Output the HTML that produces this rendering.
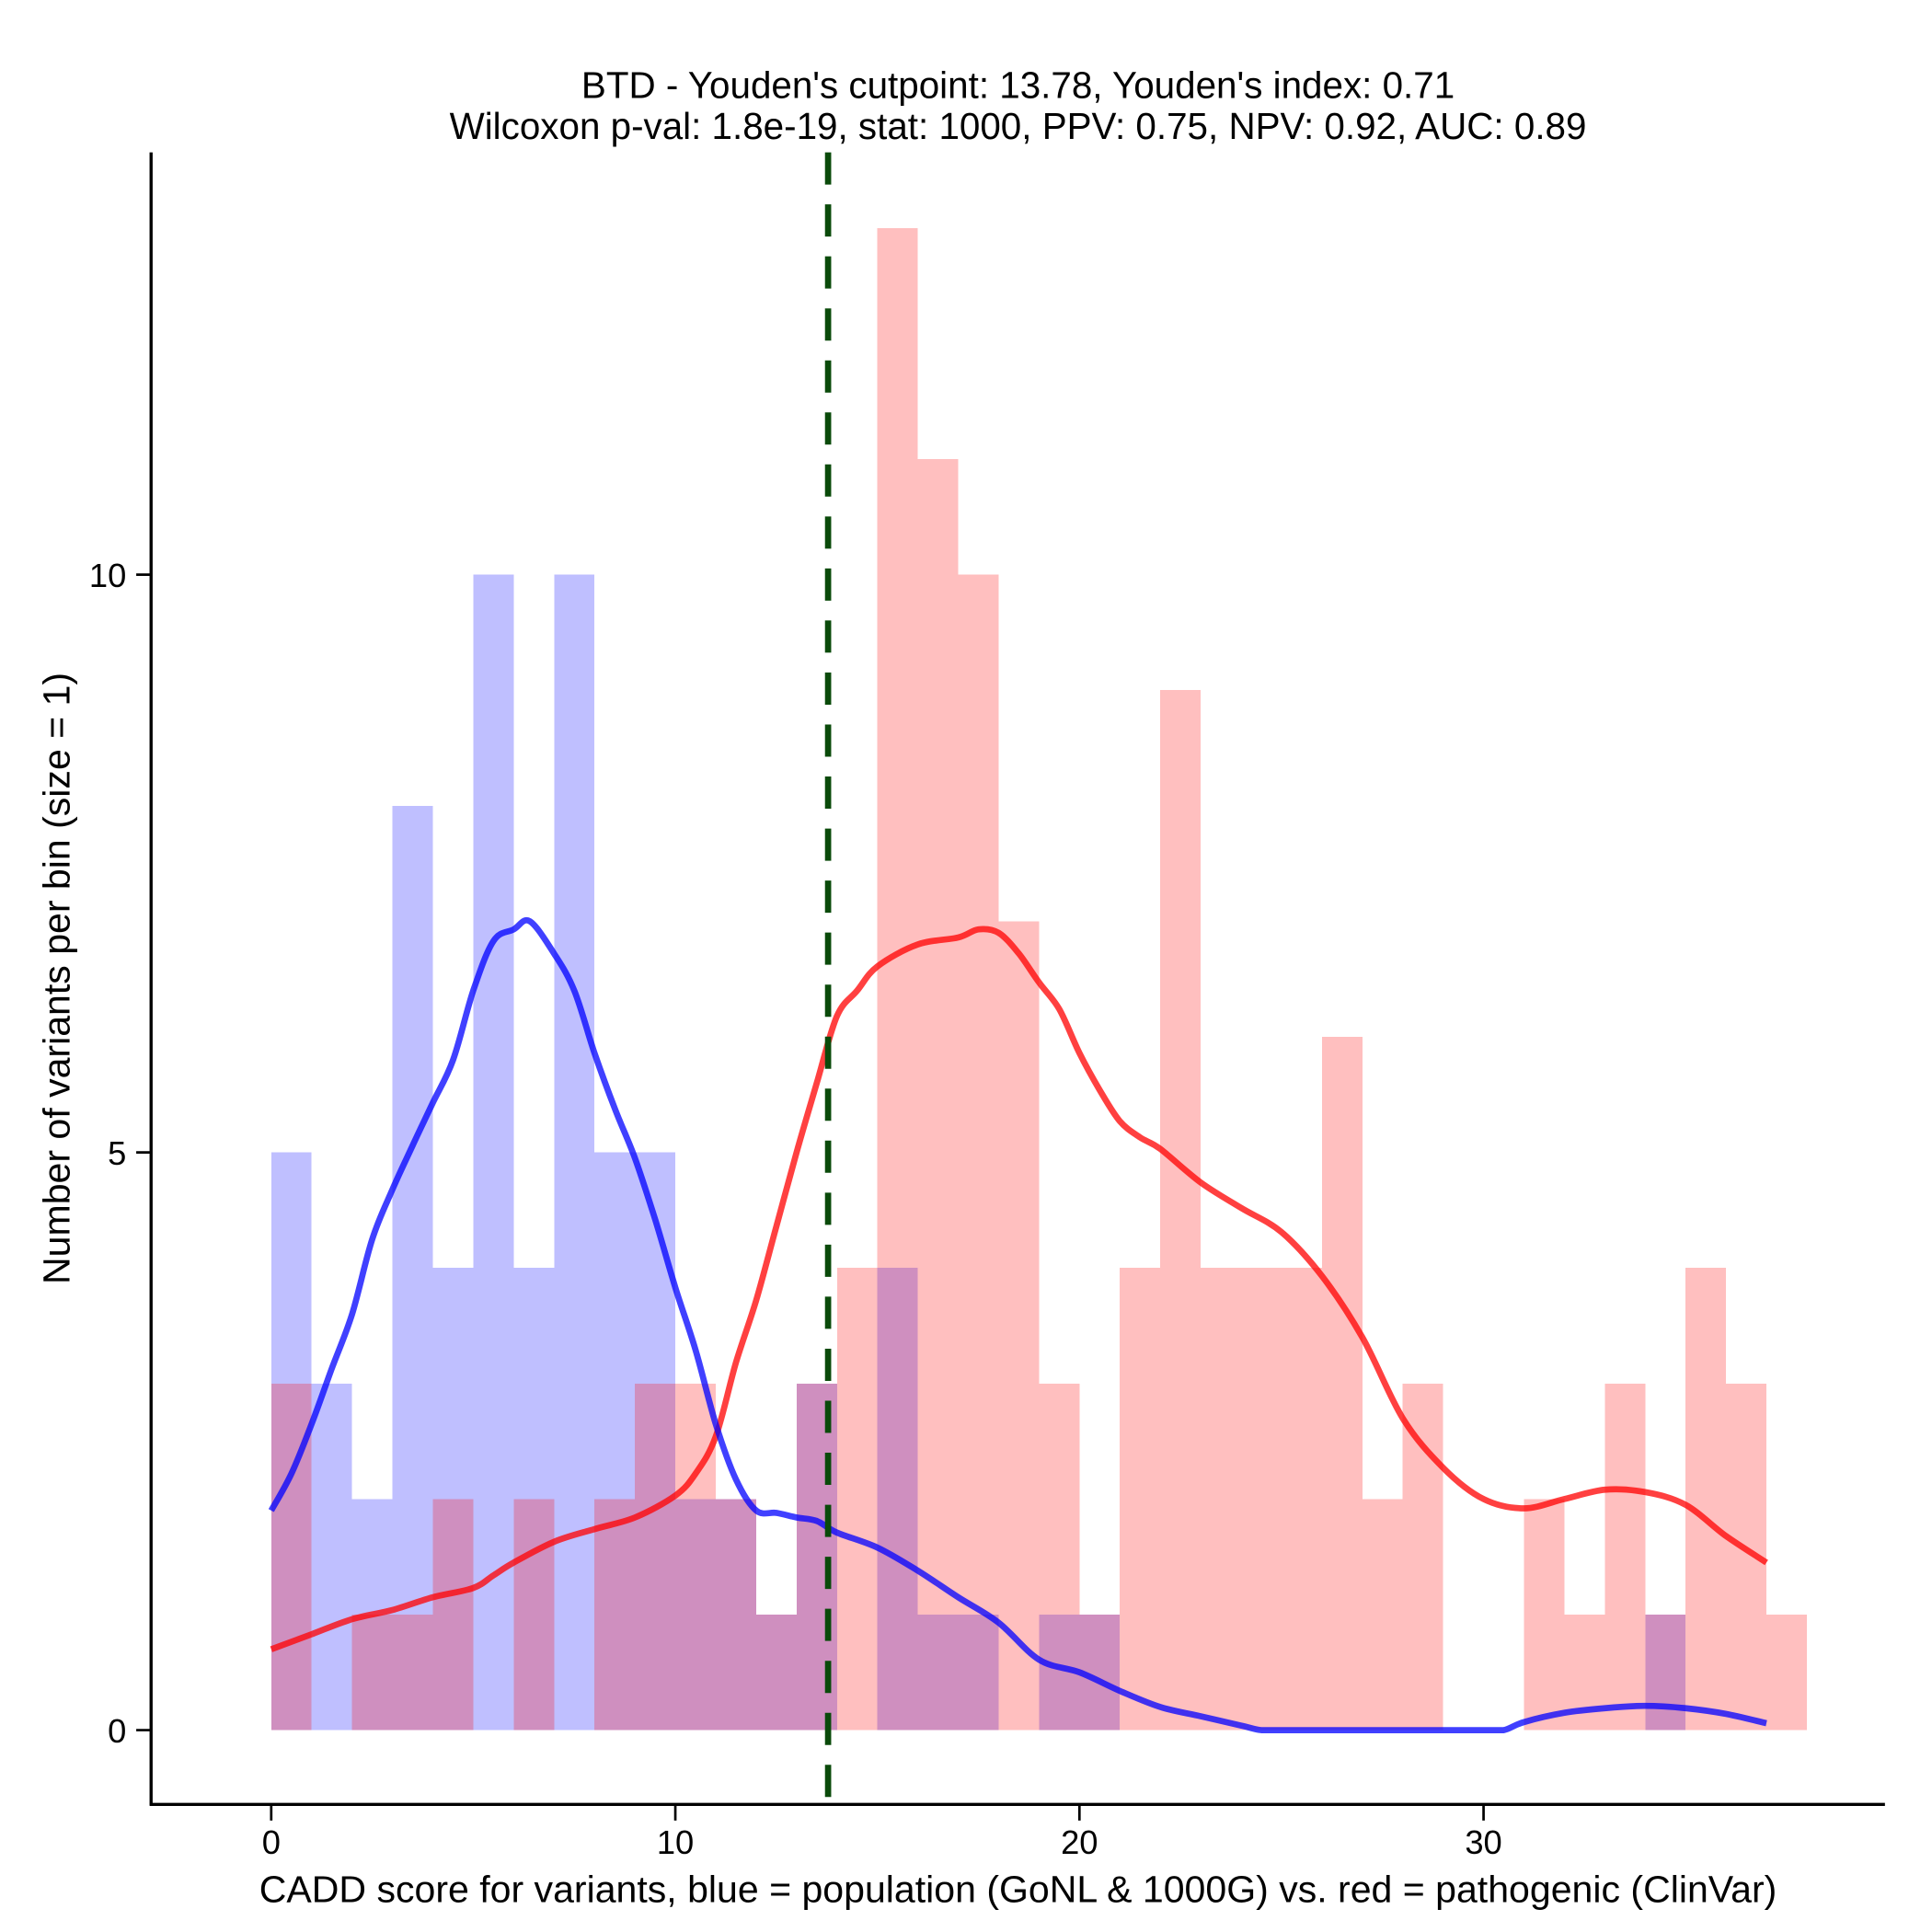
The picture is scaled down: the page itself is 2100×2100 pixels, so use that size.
<!DOCTYPE html>
<html><head><meta charset="utf-8"><style>html,body{margin:0;padding:0;background:#fff}svg{display:block}</style></head>
<body>
<svg id="chart" width="2100" height="2100" viewBox="0 0 1560 1560" xmlns="http://www.w3.org/2000/svg" font-family="Liberation Sans, Arial, sans-serif">
<rect width="1560" height="1560" fill="#fff"/>
<g id="bars-blue" shape-rendering="crispEdges"></g>
<g id="bars-red" shape-rendering="crispEdges"></g>
<g id="curves"></g>
<line id="cut" stroke="#0a4a0a" stroke-width="5" stroke-dasharray="26,16"/>
<g id="axes"></g>
<text x="822" y="79" text-anchor="middle" font-size="30">BTD - Youden's cutpoint: 13.78, Youden's index: 0.71</text>
<text x="822" y="112" text-anchor="middle" font-size="30">Wilcoxon p-val: 1.8e-19, stat: 1000, PPV: 0.75, NPV: 0.92, AUC: 0.89</text>
<text x="822" y="1536" text-anchor="middle" font-size="30.5">CADD score for variants, blue = population (GoNL &amp; 1000G) vs. red = pathogenic (ClinVar)</text>
<text transform="translate(56,790) rotate(-90)" text-anchor="middle" font-size="30.5">Number of variants per bin (size = 1)</text>
</svg>
<script>
const blueCounts = [5,3,2,8,4,10,4,10,5,5,2,2,1,3,0,4,1,1,0,1,1,0,0,0,0,0,0,0,0,0,0,0,0,0,1,0,0,0];
const redCounts  = [3,0,1,1,2,0,2,0,2,3,3,2,1,3,4,13,11,10,7,3,1,4,9,4,4,4,6,2,3,0,0,2,1,3,1,4,3,1];
const blueCurveX = [0,0.5,1,1.5,2,2.5,3,3.5,4,4.5,5,5.5,6,6.4,7,7.5,8,8.5,9,9.5,10,10.5,11,11.5,12,12.5,13,13.5,14,15,16,17,18,19,20,21,22,23,24,24.5,25,26,27,28,29,30,30.5,31,32,33,34,35,36,37];
const blueCurveY = [1.9,2.22,2.65,3.13,3.6,4.25,4.68,5.06,5.43,5.8,6.4,6.83,6.93,7.0,6.72,6.4,5.86,5.38,4.95,4.42,3.83,3.29,2.65,2.17,1.9,1.88,1.84,1.81,1.71,1.58,1.38,1.15,0.93,0.61,0.5,0.34,0.2,0.12,0.04,0,0,0,0,0,0,0,0,0.07,0.15,0.19,0.21,0.19,0.14,0.06];
const redCurveX = [0,1,2,3,4,5,5.5,6,7,8,9,10,10.5,11,11.5,12,12.5,13,13.5,14,14.5,15,16,17,17.5,18,18.5,19,19.5,20,20.5,21,21.5,22,23,24,25,26,27,28,29,30,31,32,33,34,35,36,37];
const redCurveY = [0.7,0.83,0.96,1.04,1.15,1.23,1.34,1.45,1.63,1.74,1.84,2.03,2.22,2.54,3.18,3.72,4.36,5.0,5.6,6.18,6.4,6.61,6.8,6.86,6.93,6.9,6.72,6.47,6.24,5.86,5.54,5.27,5.13,5.03,4.74,4.52,4.31,3.93,3.4,2.7,2.27,2.0,1.92,2.0,2.08,2.06,1.95,1.68,1.45];
const xTicks = [0,10,20,30];
const yTicks = [0,5,10];
const cutpoint = 13.78;

const NS='http://www.w3.org/2000/svg';
const sx = v => 219 + v*32.63;
const sy = v => 1397 - v*93.3;
function mk(tag, attrs, parent){const e=document.createElementNS(NS,tag);for(const k in attrs)e.setAttribute(k,attrs[k]);parent.appendChild(e);return e;}

const gb=document.getElementById('bars-blue'), gr=document.getElementById('bars-red');
blueCounts.forEach((c,i)=>{ if(!c) return;
  const r=mk('rect',{x:sx(i),y:sy(c),width:sx(i+1)-sx(i),height:sy(0)-sy(c),fill:'rgba(0,0,255,0.25)'},gb);
  
  
});
redCounts.forEach((c,i)=>{ if(!c) return;
  const r=mk('rect',{x:sx(i),y:sy(c),width:sx(i+1)-sx(i),height:sy(0)-sy(c),fill:'rgba(255,0,0,0.25)'},gr);
  
  
});
const gc=document.getElementById('curves');
function curve(xs,ys,color,name){
  const P=xs.map((x,i)=>[sx(x),sy(ys[i])]);
  let d='M'+P[0][0].toFixed(1)+','+P[0][1].toFixed(1);
  for(let i=0;i<P.length-1;i++){
    const p0=P[Math.max(0,i-1)],p1=P[i],p2=P[i+1],p3=P[Math.min(P.length-1,i+2)];
    const c1=[p1[0]+(p2[0]-p0[0])/6,Math.min(sy(0),p1[1]+(p2[1]-p0[1])/6)];
    const c2=[p2[0]-(p3[0]-p1[0])/6,Math.min(sy(0),p2[1]-(p3[1]-p1[1])/6)];
    d+=' C'+c1.map(v=>v.toFixed(1)).join(',')+' '+c2.map(v=>v.toFixed(1)).join(',')+' '+p2.map(v=>v.toFixed(1)).join(',');
  }
  const p=mk('path',{d:d,fill:'none',stroke:color,'stroke-width':5,'stroke-linejoin':'round','stroke-opacity':0.75},gc);
  
  
}
curve(redCurveX,redCurveY,'#ff0000','red-density-line');
curve(blueCurveX,blueCurveY,'#0000ff','blue-density-line');

const cut=document.getElementById('cut');
cut.setAttribute('x1',sx(cutpoint));cut.setAttribute('x2',sx(cutpoint));
cut.setAttribute('y1',123);cut.setAttribute('y2',1457);

const ga=document.getElementById('axes');
mk('line',{x1:122,y1:123,x2:122,y2:1458,stroke:'#000','stroke-width':2.5},ga);
mk('line',{x1:121,y1:1457,x2:1522,y2:1457,stroke:'#000','stroke-width':2.5},ga);
xTicks.forEach(t=>{
  const l=mk('line',{x1:sx(t),y1:1457,x2:sx(t),y2:1470,stroke:'#000','stroke-width':2},ga);
  
  
  const tx=mk('text',{x:sx(t),y:1497,'text-anchor':'middle','font-size':27},ga);
  tx.textContent=t;
  
  
});
yTicks.forEach(t=>{
  const l=mk('line',{x1:110,y1:sy(t),x2:122,y2:sy(t),stroke:'#000','stroke-width':2},ga);
  
  
  const tx=mk('text',{x:102,y:sy(t)+10,'text-anchor':'end','font-size':27},ga);
  tx.textContent=t;
  
  
});
</script>
</body></html>
